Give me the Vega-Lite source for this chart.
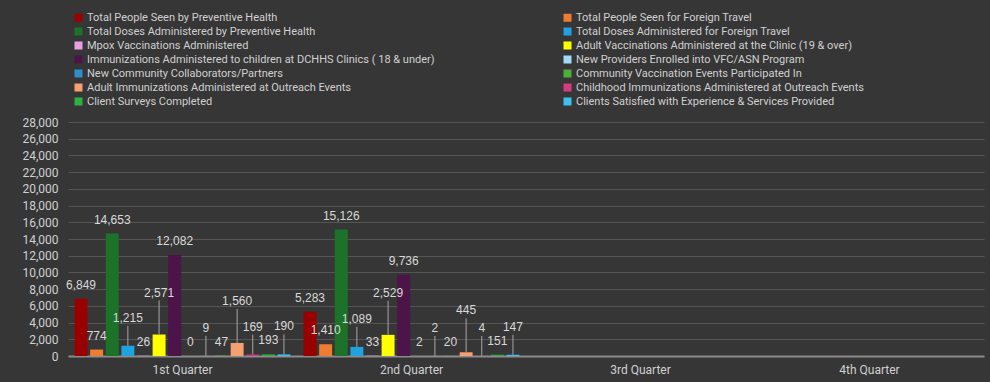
{
  "$schema": "https://vega.github.io/schema/vega-lite/v6.json",
  "width": 916,
  "height": 234,
  "autosize": {"type": "none"},
  "padding": {"left": 68, "top": 122, "right": 6, "bottom": 26},
  "background": "#363636",
  "config": {"view": {"stroke": null}, "font": "Liberation Sans"},
  "data": {
    "values": [
      {"quarter": "1st Quarter", "series": "Total People Seen by Preventive Health", "value": 6849},
      {"quarter": "1st Quarter", "series": "Total People Seen for Foreign Travel", "value": 774},
      {"quarter": "1st Quarter", "series": "Total Doses Administered by Preventive Health", "value": 14653},
      {"quarter": "1st Quarter", "series": "Total Doses Administered for Foreign Travel", "value": 1215},
      {"quarter": "1st Quarter", "series": "Mpox Vaccinations Administered", "value": 26},
      {"quarter": "1st Quarter", "series": "Adult Vaccinations Administered at the Clinic (19 & over)", "value": 2571},
      {"quarter": "1st Quarter", "series": "Immunizations Administered to children at DCHHS Clinics ( 18 & under)", "value": 12082},
      {"quarter": "1st Quarter", "series": "New Providers Enrolled into VFC/ASN Program", "value": 0},
      {"quarter": "1st Quarter", "series": "New Community Collaborators/Partners", "value": 9},
      {"quarter": "1st Quarter", "series": "Community Vaccination Events Participated In", "value": 47},
      {"quarter": "1st Quarter", "series": "Adult Immunizations Administered at Outreach Events", "value": 1560},
      {"quarter": "1st Quarter", "series": "Childhood Immunizations Administered at Outreach Events", "value": 169},
      {"quarter": "1st Quarter", "series": "Client Surveys Completed", "value": 193},
      {"quarter": "1st Quarter", "series": "Clients Satisfied with Experience  & Services Provided", "value": 190},
      {"quarter": "2nd Quarter", "series": "Total People Seen by Preventive Health", "value": 5283},
      {"quarter": "2nd Quarter", "series": "Total People Seen for Foreign Travel", "value": 1410},
      {"quarter": "2nd Quarter", "series": "Total Doses Administered by Preventive Health", "value": 15126},
      {"quarter": "2nd Quarter", "series": "Total Doses Administered for Foreign Travel", "value": 1089},
      {"quarter": "2nd Quarter", "series": "Mpox Vaccinations Administered", "value": 33},
      {"quarter": "2nd Quarter", "series": "Adult Vaccinations Administered at the Clinic (19 & over)", "value": 2529},
      {"quarter": "2nd Quarter", "series": "Immunizations Administered to children at DCHHS Clinics ( 18 & under)", "value": 9736},
      {"quarter": "2nd Quarter", "series": "New Providers Enrolled into VFC/ASN Program", "value": 2},
      {"quarter": "2nd Quarter", "series": "New Community Collaborators/Partners", "value": 2},
      {"quarter": "2nd Quarter", "series": "Community Vaccination Events Participated In", "value": 20},
      {"quarter": "2nd Quarter", "series": "Adult Immunizations Administered at Outreach Events", "value": 445},
      {"quarter": "2nd Quarter", "series": "Childhood Immunizations Administered at Outreach Events", "value": 4},
      {"quarter": "2nd Quarter", "series": "Client Surveys Completed", "value": 151},
      {"quarter": "2nd Quarter", "series": "Clients Satisfied with Experience  & Services Provided", "value": 147}
    ]
  },
  "encoding": {
    "x": {
      "field": "quarter",
      "type": "nominal",
      "title": null,
      "scale": {
        "domain": ["1st Quarter", "2nd Quarter", "3rd Quarter", "4th Quarter"],
        "paddingInner": 0,
        "paddingOuter": 0
      },
      "axis": {
        "labelAngle": 0,
        "labelColor": "#d0d0d0",
        "labelFont": "Roboto",
        "labelFontSize": 12,
        "labelPadding": 8,
        "ticks": false,
        "domainColor": "#8c8c8c",
        "domainWidth": 2,
        "grid": false
      }
    },
    "xOffset": {
      "field": "series",
      "type": "nominal",
      "sort": null,
      "scale": {
        "domain": [
          "Total People Seen by Preventive Health",
          "Total People Seen for Foreign Travel",
          "Total Doses Administered by Preventive Health",
          "Total Doses Administered for Foreign Travel",
          "Mpox Vaccinations Administered",
          "Adult Vaccinations Administered at the Clinic (19 & over)",
          "Immunizations Administered to children at DCHHS Clinics ( 18 & under)",
          "New Providers Enrolled into VFC/ASN Program",
          "New Community Collaborators/Partners",
          "Community Vaccination Events Participated In",
          "Adult Immunizations Administered at Outreach Events",
          "Childhood Immunizations Administered at Outreach Events",
          "Client Surveys Completed",
          "Clients Satisfied with Experience  & Services Provided"
        ],
        "paddingInner": 0.17,
        "paddingOuter": 0.42
      }
    },
    "y": {
      "field": "value",
      "type": "quantitative",
      "title": null,
      "scale": {"domain": [0, 28000], "nice": false},
      "axis": {
        "values": [0, 2000, 4000, 6000, 8000, 10000, 12000, 14000, 16000, 18000, 20000, 22000, 24000, 26000, 28000],
        "format": ",d",
        "labelColor": "#d0d0d0",
        "labelFont": "Roboto",
        "labelFontSize": 12,
        "labelPadding": 10,
        "ticks": false,
        "domain": false,
        "gridColor": "#555555",
        "gridWidth": 1
      }
    }
  },
  "layer": [
    {
      "mark": {"type": "bar"},
      "encoding": {
        "color": {
          "field": "series",
          "type": "nominal",
          "scale": {
            "domain": [
              "Total People Seen by Preventive Health",
              "Total People Seen for Foreign Travel",
              "Total Doses Administered by Preventive Health",
              "Total Doses Administered for Foreign Travel",
              "Mpox Vaccinations Administered",
              "Adult Vaccinations Administered at the Clinic (19 & over)",
              "Immunizations Administered to children at DCHHS Clinics ( 18 & under)",
              "New Providers Enrolled into VFC/ASN Program",
              "New Community Collaborators/Partners",
              "Community Vaccination Events Participated In",
              "Adult Immunizations Administered at Outreach Events",
              "Childhood Immunizations Administered at Outreach Events",
              "Client Surveys Completed",
              "Clients Satisfied with Experience  & Services Provided"
            ],
            "range": [
              "#990000", "#ED7D31", "#1B7228", "#1FA3E0", "#E8A0E0", "#FFFF00", "#4C1448",
              "#A0DAF5", "#2E8FCC", "#4CAF3C", "#F4A070", "#D63C82", "#2DB33D", "#3BC0F0"
            ]
          },
          "legend": {
            "title": null,
            "orient": "none",
            "direction": "horizontal",
            "legendX": 5,
            "legendY": -110,
            "columns": 2,
            "columnPadding": 127,
            "rowPadding": 2,
            "padding": 0,
            "symbolType": "square",
            "symbolSize": 64,
            "symbolStrokeWidth": 0,
            "symbolOpacity": 1,
            "labelOffset": 3,
            "labelLimit": 0,
            "labelColor": "#d0d0d0",
            "labelFont": "Roboto",
            "labelFontSize": 11
          }
        }
      }
    },
    {
      "transform": [
        {"filter": {"field": "series", "oneOf": [
          "New Community Collaborators/Partners",
          "Childhood Immunizations Administered at Outreach Events",
          "Clients Satisfied with Experience  & Services Provided",
          "Total Doses Administered for Foreign Travel"
        ]}}
      ],
      "mark": {"type": "rule", "color": "#a6a6a6", "strokeWidth": 1, "y2Offset": -20},
      "encoding": {"y2": {"field": "value"}}
    },
    {
      "transform": [
        {"filter": {"field": "series", "oneOf": [
          "Adult Vaccinations Administered at the Clinic (19 & over)",
          "Adult Immunizations Administered at Outreach Events"
        ]}}
      ],
      "mark": {"type": "rule", "color": "#a6a6a6", "strokeWidth": 1, "y2Offset": -34},
      "encoding": {"y2": {"field": "value"}}
    },
    {
      "transform": [
        {"filter": {"not": {"field": "series", "oneOf": [
          "New Community Collaborators/Partners",
          "Childhood Immunizations Administered at Outreach Events",
          "Clients Satisfied with Experience  & Services Provided",
          "Total Doses Administered for Foreign Travel",
          "Adult Vaccinations Administered at the Clinic (19 & over)",
          "Adult Immunizations Administered at Outreach Events"
        ]}}}
      ],
      "mark": {"type": "text", "baseline": "bottom", "dy": -7, "fill": "#d9d9d9", "fontSize": 12, "font": "Liberation Sans"},
      "encoding": {"text": {"field": "value", "type": "quantitative", "format": ","}}
    },
    {
      "transform": [
        {"filter": {"field": "series", "oneOf": [
          "New Community Collaborators/Partners",
          "Childhood Immunizations Administered at Outreach Events",
          "Clients Satisfied with Experience  & Services Provided",
          "Total Doses Administered for Foreign Travel"
        ]}}
      ],
      "mark": {"type": "text", "baseline": "bottom", "dy": -21, "fill": "#d9d9d9", "fontSize": 12, "font": "Liberation Sans"},
      "encoding": {"text": {"field": "value", "type": "quantitative", "format": ","}}
    },
    {
      "transform": [
        {"filter": {"field": "series", "oneOf": [
          "Adult Vaccinations Administered at the Clinic (19 & over)",
          "Adult Immunizations Administered at Outreach Events"
        ]}}
      ],
      "mark": {"type": "text", "baseline": "bottom", "dy": -35, "fill": "#d9d9d9", "fontSize": 12, "font": "Liberation Sans"},
      "encoding": {"text": {"field": "value", "type": "quantitative", "format": ","}}
    }
  ]
}
